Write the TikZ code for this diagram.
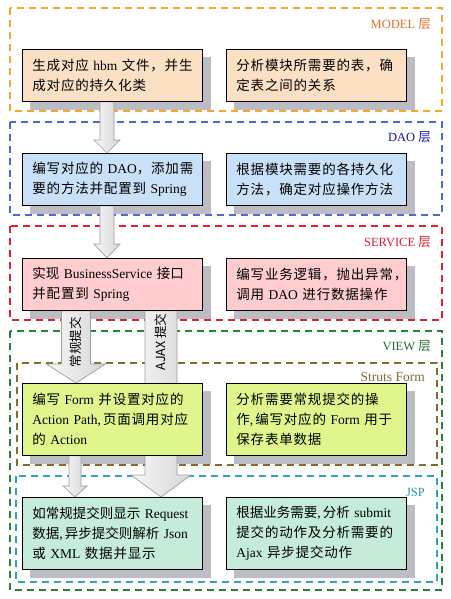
\documentclass[tikz,border=0pt]{standalone}
\usepackage{fontspec}
\setmainfont{Liberation Serif}
\newfontfamily\cjk[LetterSpace=6]{Noto Sans CJK SC}
\newfontfamily\cjkt{Noto Sans CJK SC}
\newfontfamily\cjkplain{Noto Sans CJK SC}
\usetikzlibrary{calc}
\pgfdeclarelayer{bg}\pgfdeclarelayer{shd}\pgfdeclarelayer{arr}
\pgfsetlayers{bg,shd,arr,main}
\hyphenpenalty=10000
\definecolor{mline}{RGB}{240,172,40}
\definecolor{mlab}{RGB}{232,110,40}
\definecolor{mfill}{RGB}{252,224,196}
\definecolor{dline}{RGB}{70,110,210}
\definecolor{dlab}{RGB}{20,20,170}
\definecolor{dfill}{RGB}{200,224,248}
\definecolor{sline}{RGB}{228,30,50}
\definecolor{slab}{RGB}{220,30,50}
\definecolor{sfill}{RGB}{255,204,208}
\definecolor{vline}{RGB}{40,130,60}
\definecolor{vlab}{RGB}{30,110,50}
\definecolor{fline}{RGB}{130,110,40}
\definecolor{flab}{RGB}{130,110,50}
\definecolor{ffill}{RGB}{222,246,140}
\definecolor{jline}{RGB}{40,170,180}
\definecolor{jlab}{RGB}{40,150,170}
\definecolor{jfill}{RGB}{196,236,216}
\definecolor{shadowc}{RGB}{188,188,196}
\newcommand\en[1]{\mbox{\rmfamily #1}}
\newcommand\cm{\mbox{\rmfamily ,}\hspace{2pt}}
\newcommand\barrow[6]{% #1 top, #2 tip, #3 shaft half, #4 head half, #5 head length, #6 name
  \path[blockarrow] let \p1=(#1), \p2=(#2) in
    (\x2-#3pt,\y1) -- (\x2-#3pt,\y2+#5pt) -- (\x2-#4pt,\y2+#5pt) -- (\x2,\y2)
    -- (\x2+#4pt,\y2+#5pt) -- (\x2+#3pt,\y2+#5pt) -- (\x2+#3pt,\y1) -- cycle;
  \coordinate (#6) at ($(#1)!0.5!(#2)$);
}
\tikzset{
  cont/.style={dash pattern=on 7pt off 5pt, line width=1.8pt},
  lab/.style={anchor=east, inner sep=0pt, font=\rmfamily\fontsize{12.5}{14}\selectfont},
  box/.style={draw=black, line width=0.8pt, text width=160pt, inner xsep=10pt, inner ysep=2pt,
    align=left, anchor=north west, font=\cjk\fontsize{13.5}{20}\selectfont},
  htwo/.style={minimum height=52pt},
  hthree/.style={minimum height=72pt},
  blockarrow/.style={draw=gray!75, line width=0.7pt, left color=gray!6, right color=gray!32},
  arrlab/.style={rotate=90, inner sep=0pt, font=\cjkplain\fontsize{12.5}{14}\selectfont},
}
\begin{document}
\begin{tikzpicture}[x=1pt, y=-1pt]
\useasboundingbox (0,0) rectangle (450,599);
% containers
\begin{pgfonlayer}{bg}
\fill[white] (0,0) rectangle (450,599);
\draw[cont, mline] (10,8) rectangle (442,111);
\draw[cont, dline] (10,122) rectangle (442,215);
\draw[cont, sline] (10,226) rectangle (442,320);
\draw[cont, vline] (10,331) rectangle (442,590);
\draw[cont, fline] (17,363) rectangle (437,465);
\draw[cont, jline] (16,476) rectangle (437,582);
\end{pgfonlayer}
% layer labels
\node[lab, text=mlab] (lm) at (431,24) {MODEL {\cjkplain 层}};
\node[lab, text=dlab] (ld) at (431,137) {DAO {\cjkplain 层}};
\node[lab, text=slab] (ls) at (431,242) {SERVICE {\cjkplain 层}};
\node[lab, text=vlab] (lv) at (431,346) {VIEW {\cjkplain 层}};
\node[lab, text=flab, font=\rmfamily\fontsize{13.5}{15}\selectfont] (lf) at (425,377) {Struts Form};
\node[lab, text=jlab] (lj) at (425,492) {JSP};
% boxes
\node[box, htwo, fill=mfill] (b1) at (22,49) {生成对应~\en{hbm}~文件，并生\\成对应的持久化类};
\node[box, htwo, fill=mfill] (b2) at (226,49) {分析模块所需要的表，确\\定表之间的关系};
\node[box, htwo, fill=dfill] (b3) at (22,153) {编写对应的~\en{DAO}，添加需\\要的方法并配置到~\en{Spring}};
\node[box, htwo, fill=dfill] (b4) at (226,153) {根据模块需要的各持久化\\方法，确定对应操作方法};
\node[box, htwo, fill=sfill] (b5) at (22,258) {{\cjkt 实现~\en{BusinessService}~接口}\\并配置到~\en{Spring}};
\node[box, htwo, fill=sfill] (b6) at (226,258) {编写业务逻辑，抛出异常，\\调用~\en{DAO}~进行数据操作};
\node[box, hthree, fill=ffill] (b7) at (22,383) {编写~\en{Form}~并设置对应的\\\en{Action Path}\cm 页面调用对应\\的~\en{Action}};
\node[box, hthree, fill=ffill] (b8) at (226,383) {分析需要常规提交的操\\作\cm 编写对应的~\en{Form}~用于\\保存表单数据};
\node[box, hthree, fill=jfill] (b9) at (22,497) {{\cjkt 如常规提交则显示~\en{Request}}\\{\cjkt 数据\cm 异步提交则解析~\en{Json}}\\或~\en{XML}~数据并显示};
\node[box, hthree, fill=jfill] (b10) at (226,497) {{\cjkt 根据业务需要\cm 分析~\en{submit}}\\提交的动作及分析需要的\\\en{Ajax}~异步提交动作};
% shadows
\begin{pgfonlayer}{shd}
\foreach \b in {b1,b2,b3,b4,b5,b6,b7,b8,b9,b10}{
  \fill[shadowc] ($(\b.south west)+(8pt,-8pt)$) rectangle ($(\b.north east)+(8pt,-8pt)$);
}
\end{pgfonlayer}
% block arrows
\begin{pgfonlayer}{arr}
\barrow{$(b1.south west)+(85pt,0)$}{$(b3.north west)+(85pt,0)$}{7}{13}{13}{a1}
\barrow{$(b3.south west)+(85pt,0)$}{$(b5.north west)+(85pt,0)$}{7}{13}{14}{a2}
\barrow{$(b5.south west)+(54pt,0)$}{$(b7.north west)+(54pt,0)$}{14.5}{29.5}{19}{a3}
\barrow{$(b5.south west)+(139pt,0)$}{$(b9.north west)+(139pt,0)$}{16}{30}{22}{a4}
\barrow{$(b7.south west)+(53pt,0)$}{$(b9.north west)+(53pt,0)$}{6}{12}{11}{a5}
\node[arrlab] (t3) at (76,342) {常规提交};
\node[arrlab] (t4) at (161,342) {AJAX 提交};
\end{pgfonlayer}
\end{tikzpicture}
\end{document}
